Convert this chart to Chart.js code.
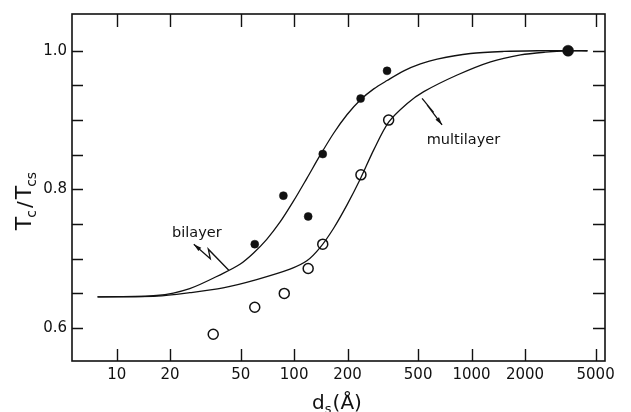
<!DOCTYPE html>
<html>
<head>
<meta charset="utf-8">
<script src="https://cdn.jsdelivr.net/npm/chart.js@4/dist/chart.umd.min.js"></script>
<style>
  body { margin: 0; background: #fff; }
  #wrap { width: 631px; height: 412px; }
</style>
</head>
<body>
<div id="wrap"><canvas id="myChart" width="631" height="412"></canvas></div>
<script>
// measured points (d_s in Angstrom, Tc/Tcs)
var bilayerX = [60, 87, 120, 145, 237, 334];
var bilayerY = [0.721, 0.791, 0.761, 0.851, 0.931, 0.971];
var multiX = [35, 60, 88, 120, 145, 238, 341];
var multiY = [0.591, 0.630, 0.650, 0.686, 0.721, 0.821, 0.900];
var bulkX = [3500];
var bulkY = [1.0];

// theory curves
var bilayerCurveX = [7.8, 16.8, 25.8, 39.8, 49.5, 58.9, 70.1, 83.4, 99.1, 118, 140, 167, 199, 236, 281, 334, 415, 515, 640, 986, 1520, 2350, 3500, 4500];
var bilayerCurveY = [0.645, 0.647, 0.657, 0.679, 0.692, 0.708, 0.728, 0.753, 0.783, 0.816, 0.849, 0.881, 0.908, 0.929, 0.945, 0.957, 0.971, 0.981, 0.988, 0.996, 0.999, 1.0, 1.0, 1.0];
var multiCurveX = [7.8, 16.8, 25.8, 39.8, 61.5, 94.8, 118, 140, 167, 199, 236, 281, 341, 434, 538, 830, 1280, 1890, 2600, 3500, 4500];
var multiCurveY = [0.645, 0.646, 0.651, 0.658, 0.670, 0.685, 0.697, 0.716, 0.744, 0.778, 0.815, 0.857, 0.897, 0.924, 0.941, 0.965, 0.984, 0.994, 0.998, 1.0, 1.0];

var xTicks = [10, 20, 50, 100, 200, 500, 1000, 2000, 5000];
var yTicks = [0.6, 0.8, 1.0];
var yMinor = [0.6, 0.65, 0.7, 0.75, 0.8, 0.85, 0.9, 0.95, 1.0];

function pts(xs, ys) {
    return xs.map(function (x, i) { return { x: x, y: ys[i] }; });
}

var FONT = "'DejaVu Sans', sans-serif";
var INK = "#111";

function runs(ctx, parts, x, y) {
    // parts: [text, size, dy, gap]
    var total = 0;
    parts.forEach(function (p) {
        ctx.font = p[1] + "px " + FONT;
        total += ctx.measureText(p[0]).width + (p[3] || 0);
    });
    var cx = x - total / 2;
    parts.forEach(function (p) {
        ctx.font = p[1] + "px " + FONT;
        ctx.fillText(p[0], cx, y + p[2]);
        cx += ctx.measureText(p[0]).width + (p[3] || 0);
    });
}

function zigArrow(ctx, tx, ty, offs) {
    ctx.beginPath();
    ctx.moveTo(tx, ty);
    offs.forEach(function (o) { ctx.lineTo(tx + o[0], ty + o[1]); });
    ctx.stroke();
    var a = Math.atan2(-offs[0][1], -offs[0][0]);
    ctx.beginPath();
    ctx.moveTo(tx, ty);
    ctx.lineTo(tx - 8 * Math.cos(a) + 2.2 * Math.sin(a), ty - 8 * Math.sin(a) - 2.2 * Math.cos(a));
    ctx.lineTo(tx - 8 * Math.cos(a) - 2.2 * Math.sin(a), ty - 8 * Math.sin(a) + 2.2 * Math.cos(a));
    ctx.closePath();
    ctx.fill();
}

var frame = {
    id: "frame",
    afterDraw: function (chart) {
        var ctx = chart.ctx;
        var a = chart.chartArea;
        var xs = chart.scales.x, ys = chart.scales.y;
        ctx.save();
        ctx.strokeStyle = INK;
        ctx.fillStyle = INK;
        ctx.lineWidth = 1.6;
        ctx.strokeRect(a.left, a.top, a.right - a.left, a.bottom - a.top);
        ctx.lineWidth = 1.4;
        ctx.beginPath();
        xTicks.forEach(function (v) {
            var px = Math.round(xs.getPixelForValue(v)) + 0.5;
            ctx.moveTo(px, a.bottom); ctx.lineTo(px, a.bottom - 12);
            ctx.moveTo(px, a.top); ctx.lineTo(px, a.top + 13);
        });
        yMinor.forEach(function (v) {
            var py = Math.round(ys.getPixelForValue(v)) + 0.5;
            ctx.moveTo(a.left, py); ctx.lineTo(a.left + 11, py);
            ctx.moveTo(a.right, py); ctx.lineTo(a.right - 12, py);
        });
        ctx.stroke();

        // annotations
        ctx.textBaseline = "alphabetic";
        ctx.font = "14.5px " + FONT;
        ctx.textAlign = "center";
        ctx.fillText("bilayer", xs.getPixelForValue(28.3), ys.getPixelForValue(0.738) + 5);
        ctx.fillText("multilayer", xs.getPixelForValue(900), ys.getPixelForValue(0.872) + 5);
        ctx.lineWidth = 1.3;
        zigArrow(ctx, xs.getPixelForValue(27.2), ys.getPixelForValue(0.721), [[16.5, 14.5], [14.5, 5], [35, 26]]);
        zigArrow(ctx, xs.getPixelForValue(682), ys.getPixelForValue(0.893), [[-15, -20], [-8.5, -12.5], [-20, -26.5]]);

        // axis titles
        ctx.textAlign = "left";
        runs(ctx, [["d", 20, 0, 0], ["s", 13, 4, 1], ["(Å)", 20, 0, 0]], 337, 409);
        ctx.translate(31, 201);
        ctx.rotate(-Math.PI / 2);
        runs(ctx, [["T", 22, 0, -1], ["c", 14, 5, 2], ["/", 20, 0, 2], ["T", 22, 0, -1], ["cs", 14, 5, 0]], 0, 0);
        ctx.restore();
    }
};

var curveStyle = {
    showLine: true,
    pointRadius: 0,
    borderColor: INK,
    borderWidth: 1.3,
    tension: 0.3
};

new Chart("myChart", {
    type: "scatter",
    data: {
        datasets: [
            Object.assign({ data: pts(bilayerCurveX, bilayerCurveY) }, curveStyle),
            Object.assign({ data: pts(multiCurveX, multiCurveY) }, curveStyle),
            {
                data: pts(bilayerX, bilayerY),
                pointRadius: 4,
                pointBackgroundColor: INK,
                pointBorderColor: INK,
                pointBorderWidth: 0.5
            }, {
                data: pts(multiX, multiY),
                pointRadius: 5,
                pointBackgroundColor: "#fff",
                pointBorderColor: INK,
                pointBorderWidth: 1.5
            }, {
                data: pts(bulkX, bulkY),
                pointRadius: 5.5,
                pointBackgroundColor: INK,
                pointBorderColor: INK,
                pointBorderWidth: 0.5
            }
        ]
    },
    options: {
        responsive: false,
        animation: false,
        layout: { padding: { top: 12, right: 26, left: 0, bottom: 0 } },
        plugins: {
            legend: { display: false },
            tooltip: { enabled: false }
        },
        scales: {
            x: {
                type: "logarithmic",
                min: 5.6,
                max: 5650,
                grid: { display: false, drawTicks: false },
                border: { display: false },
                afterBuildTicks: function (s) { s.ticks = xTicks.map(function (v) { return { value: v }; }); },
                afterFit: function (s) { s.height = 51; },
                ticks: {
                    color: INK,
                    padding: 5,
                    maxRotation: 0,
                    autoSkip: false,
                    font: { family: FONT, size: 15 },
                    callback: function (v) { return String(v); }
                }
            },
            y: {
                min: 0.5525,
                max: 1.053,
                grid: { display: false, drawTicks: false },
                border: { display: false },
                afterBuildTicks: function (s) { s.ticks = yTicks.map(function (v) { return { value: v }; }); },
                afterFit: function (s) { s.width = 72; },
                ticks: {
                    color: INK,
                    padding: 5,
                    font: { family: FONT, size: 15 },
                    callback: function (v) { return v.toFixed(1); }
                }
            }
        }
    },
    plugins: [frame]
});
</script>
</body>
</html>
